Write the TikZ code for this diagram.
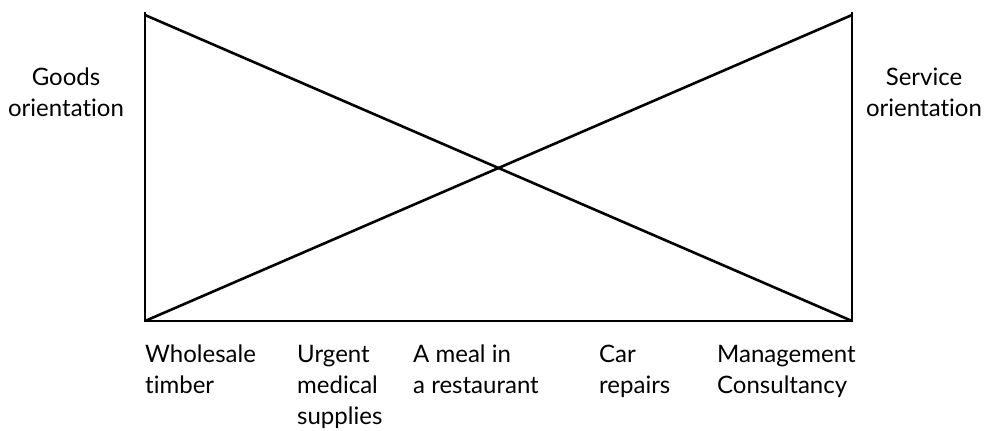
\documentclass[tikz,border=0pt]{standalone}
\usepackage{fontspec}
\setmainfont{Lato}[Ligatures={NoCommon}]
\begin{document}
\begin{tikzpicture}[x=1bp,y=-1bp,
  frame/.style={line width=2.6bp, line cap=butt},
  lbl/.style={inner sep=0pt, font=\fontsize{24bp}{31bp}\selectfont},
  itemlbl/.style={lbl, anchor=north west, align=left},
  sidelbl/.style={lbl, align=center}]
  \useasboundingbox (0,0) rectangle (988,430);
  % corners of the frame
  \coordinate (tl) at (145,12);
  \coordinate (tr) at (852,12);
  \coordinate (bl) at (145,321);
  \coordinate (br) at (852,321);
  \coordinate (dl) at (145,15);
  \coordinate (dr) at (852,15);
  % frame: two uprights and the base line
  \draw[frame] (tl) -- (bl) -- (br) -- (tr);
  % the two crossing diagonals
  \draw[frame] (dl) -- (br);
  \draw[frame] (bl) -- (dr);
  % end labels
  \node[sidelbl] (goods) at (66,92) {Goods\\orientation};
  \node[sidelbl] (service) at (924,92) {Service\\orientation};
  % examples along the base
  \node[itemlbl] (timber) at (145,345) {Wholesale\\timber};
  \node[itemlbl] (medical) at (297,345) {Urgent\\medical\\supplies};
  \node[itemlbl] (meal) at (413,345) {A meal in\\a restaurant};
  \node[itemlbl] (car) at (599,345) {Car\\repairs};
  \node[itemlbl] (consult) at (717,345) {Management\\Consultancy};
\end{tikzpicture}
\end{document}
